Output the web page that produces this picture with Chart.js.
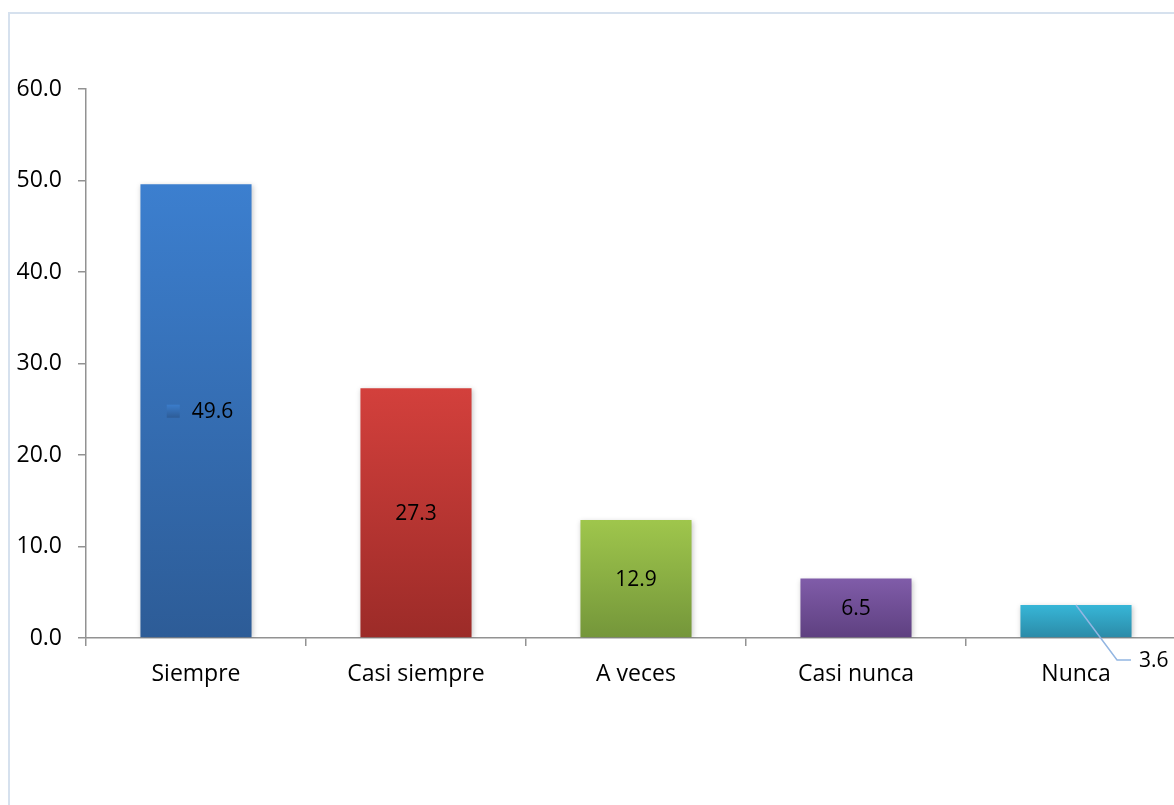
<!DOCTYPE html>
<html>
<head>
<meta charset="utf-8">
<script src="https://cdn.jsdelivr.net/npm/chart.js@4"></script>
<style>
  html, body { margin: 0; padding: 0; background: #fff; overflow: hidden; }
  #wrap { width: 1200px; height: 805px; position: relative; }
</style>
</head>
<body>
<div id="wrap"><canvas id="bar-chart"></canvas></div>
<script>
const categories = ['Siempre', 'Casi siempre', 'A veces', 'Casi nunca', 'Nunca'];
const values = [49.6, 27.3, 12.9, 6.5, 3.6];
const yTicks = [0, 10, 20, 30, 40, 50, 60];
const topColors = ['#3c7fcf', '#d3403c', '#9fc64c', '#805ca9', '#37b6d7'];
const bottomColors = ['#2d5c97', '#9c2b28', '#74963a', '#5e4080', '#2b8aa7'];

const FONT = '"Open Sans", "DejaVu Sans", sans-serif';

function barFill(ctx) {
  const chart = ctx.chart;
  const i = ctx.dataIndex;
  const yScale = chart.scales && chart.scales.y;
  if (!chart.chartArea || !yScale) return topColors[i];
  const top = yScale.getPixelForValue(values[i]);
  const g = chart.ctx.createLinearGradient(0, top, 0, chart.chartArea.bottom);
  g.addColorStop(0, topColors[i]);
  g.addColorStop(1, bottomColors[i]);
  return g;
}

// light frame around the chart
const frame = {
  id: 'frame',
  beforeDraw(chart) {
    const c = chart.ctx;
    c.save();
    c.strokeStyle = '#d6e1ee';
    c.lineWidth = 2;
    c.beginPath();
    c.moveTo(9, 805);
    c.lineTo(9, 13);
    c.lineTo(chart.width, 13);
    c.stroke();
    c.restore();
  }
};

// soft shadow behind the bars
const barShadow = {
  id: 'barShadow',
  beforeDatasetsDraw(chart) {
    const c = chart.ctx;
    c.save();
    c.shadowColor = 'rgba(0,0,0,0.22)';
    c.shadowBlur = 5;
    c.shadowOffsetX = 1;
    c.shadowOffsetY = 1;
  },
  afterDatasetsDraw(chart) {
    chart.ctx.restore();
  }
};

// value labels
const valueLabels = {
  id: 'valueLabels',
  afterDatasetsDraw(chart) {
    const c = chart.ctx;
    const meta = chart.getDatasetMeta(0);
    c.save();
    c.font = '21px ' + FONT;
    c.fillStyle = '#000';
    c.textBaseline = 'middle';
    meta.data.forEach((bar, i) => {
      const txt = values[i].toFixed(1);
      const midY = (bar.y + bar.base) / 2;
      if (i === 0) {
        // legend key + label
        const tw = c.measureText(txt).width;
        const total = 13 + 12 + tw;
        const x0 = bar.x - total / 2 + 4;
        const g = c.createLinearGradient(0, midY - 7, 0, midY + 7);
        g.addColorStop(0, topColors[0]);
        g.addColorStop(1, bottomColors[0]);
        c.fillStyle = g;
        c.fillRect(x0, midY - 6, 13, 13);
        c.fillStyle = '#000';
        c.textAlign = 'left';
        c.fillText(txt, x0 + 25, midY + 1);
      } else if (i === categories.length - 1) {
        // leader line to an outside label
        c.strokeStyle = '#93b6e2';
        c.lineWidth = 1.5;
        c.beginPath();
        c.moveTo(bar.x, bar.y);
        c.lineTo(bar.x + 41, bar.y + 55);
        c.lineTo(bar.x + 55, bar.y + 55);
        c.stroke();
        c.textAlign = 'left';
        c.fillText(txt, bar.x + 63, bar.y + 56);
      } else {
        c.textAlign = 'center';
        c.fillText(txt, bar.x, midY + 1);
      }
    });
    c.restore();
  }
};

new Chart(document.getElementById('bar-chart'), {
  type: 'bar',
  data: {
    labels: categories,
    datasets: [{
      data: values,
      backgroundColor: barFill,
      borderWidth: 0,
      categoryPercentage: 1,
      barPercentage: 0.505
    }]
  },
  options: {
    responsive: true,
    maintainAspectRatio: false,
    animation: false,
    layout: { padding: { top: 89, right: 14, left: 0, bottom: 0 } },
    plugins: {
      legend: { display: false },
      tooltip: { enabled: false }
    },
    scales: {
      y: {
        min: 0,
        max: 60,
        afterBuildTicks(scale) {
          scale.ticks = yTicks.map(v => ({ value: v }));
        },
        afterFit(scale) { scale.width = 86; },
        ticks: {
          padding: 16,
          color: '#000',
          font: { family: FONT, size: 23 },
          callback: v => Number(v).toFixed(1)
        },
        grid: { drawOnChartArea: false, drawTicks: true, tickLength: 8, color: '#929292', lineWidth: 1.5 },
        border: { color: '#929292', width: 1.5 }
      },
      x: {
        afterFit(scale) { scale.height = 167; },
        ticks: {
          padding: 15,
          color: '#000',
          font: { family: FONT, size: 23 },
          maxRotation: 0
        },
        grid: { offset: true, drawOnChartArea: false, drawTicks: true, tickLength: 8, color: '#929292', lineWidth: 1.5 },
        border: { color: '#929292', width: 1.5 }
      }
    }
  },
  plugins: [frame, barShadow, valueLabels]
});
</script>
</body>
</html>
